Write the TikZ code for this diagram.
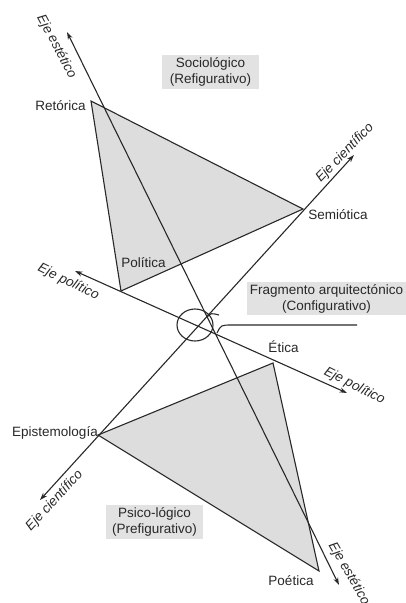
\documentclass[tikz,border=0pt]{standalone}
\usepackage{fontspec}
\setmainfont{Liberation Sans}
\usetikzlibrary{arrows.meta, positioning}
\definecolor{fillgray}{RGB}{221,221,221}
\definecolor{boxgray}{RGB}{226,226,226}
\definecolor{inkgray}{RGB}{40,40,40}

\begin{document}
\begin{tikzpicture}[
    x=1pt, y=-1pt,
    lbl/.style={font=\fontsize{13.5}{16}\selectfont, text=inkgray, inner sep=0pt,
                text height=9.7pt, text depth=0pt},
    axislbl/.style={lbl, font=\fontsize{13.5}{16}\selectfont\itshape},
    box/.style={rectangle, fill=boxgray, minimum width=97pt, minimum height=34pt,
                inner sep=2pt, align=center, font=\fontsize{13.5}{16}\selectfont, text=inkgray},
    tri/.style={fill=fillgray, draw=inkgray, line width=1.1pt},
    axis/.style={{Stealth[length=7.5pt,width=5pt]}-{Stealth[length=7.5pt,width=5pt]},
                 line width=1.1pt, draw=inkgray},
    lead/.style={line width=1.1pt, draw=inkgray}
]
    \useasboundingbox (0,0) rectangle (406,603);

    \coordinate (ret) at (91,101);
    \coordinate (sem) at (303,209);
    \coordinate (pol) at (121,291);
    \coordinate (eti) at (273,363);
    \coordinate (epi) at (98,435);
    \coordinate (poe) at (319,571);

    \coordinate (estA) at (67,32);
    \coordinate (estB) at (339,585);
    \coordinate (polA) at (75,271);
    \coordinate (polB) at (347,393);
    \coordinate (cieA) at (354,155);
    \coordinate (cieB) at (40,500);

    \coordinate (hub) at (195,325);
    \coordinate (leadS) at (217,333);
    \coordinate (leadE) at (357,325);

    \filldraw[tri] (ret) -- (sem) -- (pol) -- cycle;
    \filldraw[tri] (epi) -- (eti) -- (poe) -- cycle;

    \draw[axis] (estA) -- (estB);
    \draw[axis] (polA) -- (polB);
    \draw[axis] (cieA) -- (cieB);

    \draw[lead] (hub) ellipse [x radius=18, y radius=16];
    \draw[lead] (207,317) .. controls (211,313) .. (219,315);
    \draw[lead] (leadS) .. controls (221,325) .. (232,325) -- (leadE);

    \node[box] (socio) at (210.5,72) {Sociológico\\(Refigurativo)};
    \node[box, minimum width=159pt, minimum height=33pt] (frag) at (326.5,298.5)
        {Fragmento arquitectónico\\(Configurativo)};
    \node[box] (psico) at (154.5,522) {Psico-lógico\\(Prefigurativo)};

    \node[lbl] (retL) at (60.5,105.5) {Retórica};
    \node[lbl] (semL) at (338,215) {Semiótica};
    \node[lbl] (polL) at (143.5,263) {Política};
    \node[lbl] (etiL) at (283.5,348) {Ética};
    \node[lbl] (epiL) at (55,432) {Epistemología};
    \node[lbl] (poeL) at (291,581) {Poética};

    \node[axislbl, rotate=-62] (estTop) at (57.5,46) {Eje estético};
    \node[axislbl, rotate=-60] (estBot) at (350,573) {Eje estético};
    \node[axislbl, rotate=46] (cieTop) at (344,152) {Eje científico};
    \node[axislbl, rotate=47] (cieBot) at (53.5,500) {Eje científico};
    \node[axislbl, rotate=-26] (polTop) at (69,281) {Eje político};
    \node[axislbl, rotate=-27] (polBot) at (355,385) {Eje político};
\end{tikzpicture}
\end{document}
